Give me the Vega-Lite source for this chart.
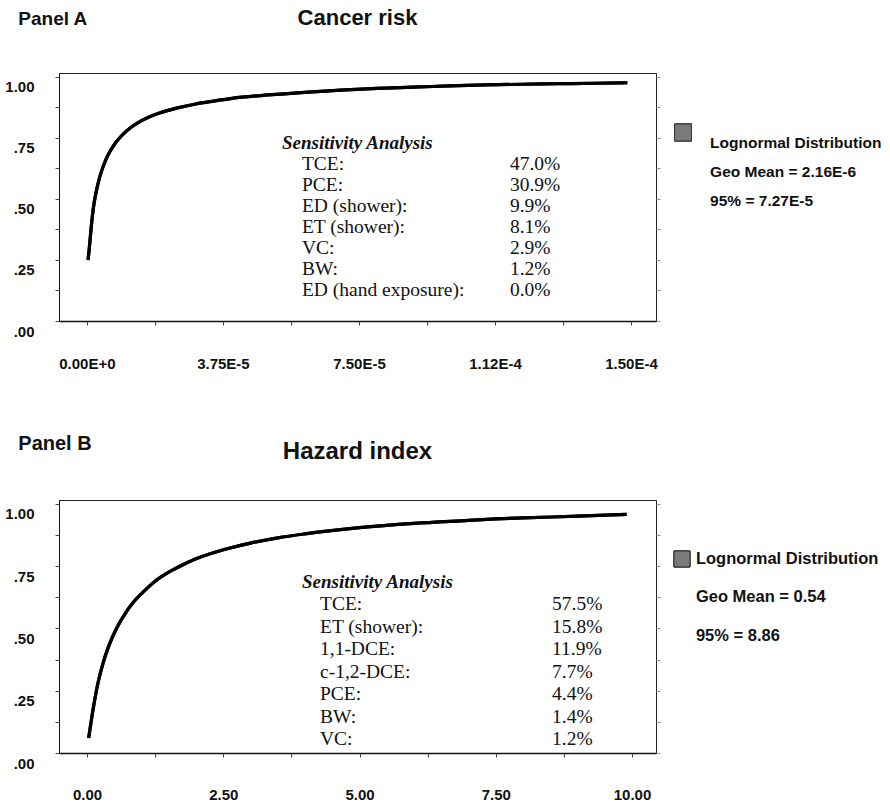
{
  "$schema": "https://vega.github.io/schema/vega-lite/v6.json",
  "background": "white",
  "padding": {"left": 4, "top": 6, "right": 0, "bottom": 0},
  "spacing": 61,
  "config": {
    "view": {"stroke": "#222", "strokeWidth": 1},
    "font": "Liberation Sans",
    "axis": {"labelFont": "Liberation Sans", "labelFontWeight": "bold", "labelFontSize": 15, "labelColor": "#111", "tickColor": "#444", "domainColor": "#111", "grid": false, "labelFlush": false, "labelOverlap": false, "tickSize": 4},
    "axisX": {"labelPadding": 31, "domainWidth": 1.6},
    "axisY": {"labelPadding": 21, "labelOffset": 10},
    "title": {"font": "Liberation Sans", "fontWeight": "bold", "color": "#111"}
  },
  "vconcat": [
    {
      "title": {"text": "Panel A", "anchor": "start", "fontSize": 19, "offset": 0, "dy": 22, "dx": 14},
      "spacing": 5,
      "hconcat": [
        {
          "width": 597,
          "height": 248,
          "title": {"text": "Cancer risk", "anchor": "middle", "fontSize": 22, "offset": 43},
          "data": {"values": [
            {"risk": 3e-7, "p": 0.25}, {"risk": 6e-7, "p": 0.29}, {"risk": 1e-6, "p": 0.355}, {"risk": 1.5e-6, "p": 0.43}, {"risk": 2e-6, "p": 0.485},
            {"risk": 2.5e-6, "p": 0.525}, {"risk": 3e-6, "p": 0.56}, {"risk": 4e-6, "p": 0.613}, {"risk": 5e-6, "p": 0.653},
            {"risk": 6e-6, "p": 0.685}, {"risk": 7e-6, "p": 0.71}, {"risk": 8e-6, "p": 0.732}, {"risk": 9e-6, "p": 0.75},
            {"risk": 1e-5, "p": 0.766}, {"risk": 1.2e-5, "p": 0.792}, {"risk": 1.4e-5, "p": 0.812}, {"risk": 1.7e-5, "p": 0.835},
            {"risk": 2e-5, "p": 0.852}, {"risk": 2.5e-5, "p": 0.873}, {"risk": 3e-5, "p": 0.889}, {"risk": 3.5e-5, "p": 0.901},
            {"risk": 4e-5, "p": 0.912}, {"risk": 5e-5, "p": 0.926}, {"risk": 6e-5, "p": 0.937}, {"risk": 7e-5, "p": 0.946},
            {"risk": 8e-5, "p": 0.953}, {"risk": 9e-5, "p": 0.958}, {"risk": 1e-4, "p": 0.963}, {"risk": 1.1e-4, "p": 0.967},
            {"risk": 1.2e-4, "p": 0.97}, {"risk": 1.3e-4, "p": 0.972}, {"risk": 1.4e-4, "p": 0.974}, {"risk": 1.49e-4, "p": 0.976}
          ]},
          "layer": [
            {
              "mark": {"type": "line", "color": "#000", "strokeWidth": 3.2, "interpolate": "monotone"},
              "encoding": {
                "x": {"field": "risk", "type": "quantitative", "title": null,
                      "scale": {"domain": [-7.7e-6, 1.569e-4], "nice": false, "zero": false},
                      "axis": {"values": [0, 1.875e-5, 3.75e-5, 5.625e-5, 7.5e-5, 9.375e-5, 1.125e-4, 1.3125e-4, 1.5e-4],
                               "labelExpr": "datum.value == 0 ? '0.00E+0' : datum.value == 3.75e-5 ? '3.75E-5' : datum.value == 7.5e-5 ? '7.50E-5' : datum.value == 1.125e-4 ? '1.12E-4' : datum.value == 1.5e-4 ? '1.50E-4' : ''"}},
                "y": {"field": "p", "type": "quantitative", "title": null,
                      "scale": {"domain": [0, 1.016], "nice": false, "zero": false},
                      "axis": {"orient": "left", "values": [0, 0.125, 0.25, 0.375, 0.5, 0.625, 0.75, 0.875, 1],
                               "labelExpr": "datum.value == 1 ? '1.00' : datum.value == 0.75 ? '.75' : datum.value == 0.5 ? '.50' : datum.value == 0.25 ? '.25' : datum.value == 0 ? '.00' : ''"}}
              }
            },
            {
              "mark": {"type": "line", "color": "#000", "strokeWidth": 3.2, "interpolate": "monotone"},
              "encoding": {
                "x": {"field": "risk", "type": "quantitative", "title": null},
                "y": {"field": "p", "type": "quantitative", "title": null,
                      "scale": {"domain": [0, 1.016], "nice": false, "zero": false},
                      "axis": {"orient": "right", "labels": false, "domain": false, "tickColor": "#999", "values": [0, 0.125, 0.25, 0.375, 0.5, 0.625, 0.75, 0.875, 1]}}
              }
            },
            {
              "data": {"values": [{"head": "Sensitivity Analysis"}]},
              "mark": {"type": "text", "align": "left", "baseline": "middle", "font": "Liberation Serif", "fontSize": 19, "fontWeight": "bold", "fontStyle": "italic", "color": "#111"},
              "encoding": {
                "x": {"datum": 5.377e-5, "type": "quantitative", "title": null},
                "y": {"datum": 0, "type": "quantitative", "scale": {"domain": [-3.333, 8.476], "reverse": true, "nice": false, "zero": false}, "axis": null},
                "text": {"field": "head"}
              }
            },
            {
              "data": {"name": "sensA"},
              "mark": {"type": "text", "align": "left", "baseline": "middle", "font": "Liberation Serif", "fontSize": 19.5, "color": "#111"},
              "encoding": {
                "x": {"datum": 5.928e-5, "type": "quantitative", "title": null},
                "y": {"field": "order", "type": "quantitative", "scale": {"domain": [-3.333, 8.476], "reverse": true, "nice": false, "zero": false}, "axis": null},
                "text": {"field": "item"}
              }
            },
            {
              "data": {"name": "sensA"},
              "mark": {"type": "text", "align": "left", "baseline": "middle", "font": "Liberation Serif", "fontSize": 19.5, "color": "#111"},
              "encoding": {
                "x": {"datum": 1.1664e-4, "type": "quantitative", "title": null},
                "y": {"field": "order", "type": "quantitative", "scale": {"domain": [-3.333, 8.476], "reverse": true, "nice": false, "zero": false}, "axis": null},
                "text": {"field": "pct"}
              }
            }
          ],
          "resolve": {"scale": {"y": "independent"}}
        },
        {
          "width": 225,
          "height": 248,
          "view": {"stroke": null},
          "data": {"values": [
            {"order": 1, "label": "Lognormal Distribution"},
            {"order": 2, "label": "Geo Mean = 2.16E-6"},
            {"order": 3, "label": "95% = 7.27E-5"}
          ]},
          "layer": [
            {
              "mark": {"type": "text", "align": "left", "baseline": "middle", "font": "Liberation Sans", "fontWeight": "bold", "fontSize": 15.5, "color": "#111"},
              "encoding": {
                "x": {"datum": 0.196, "type": "quantitative", "scale": {"domain": [0, 1], "nice": false, "zero": false}, "axis": null},
                "y": {"field": "order", "type": "quantitative", "scale": {"domain": [-1.41, 7.14], "reverse": true, "nice": false, "zero": false}, "axis": null},
                "text": {"field": "label"}
              }
            },
            {
              "mark": {"type": "square", "size": 289, "filled": true, "color": "#7a7a7a", "stroke": "#333", "strokeWidth": 1, "opacity": 1},
              "encoding": {
                "x": {"datum": 0.0756, "type": "quantitative"},
                "y": {"datum": 0.641, "type": "quantitative"}
              }
            }
          ]
        }
      ]
    },
    {
      "title": {"text": "Panel B", "anchor": "start", "fontSize": 20, "offset": 0, "dy": 14, "dx": 14},
      "spacing": 5,
      "hconcat": [
        {
          "width": 597,
          "height": 253,
          "title": {"text": "Hazard index", "anchor": "middle", "fontSize": 24, "offset": 36},
          "data": {"values": [
            {"hi": 0.03, "p": 0.06}, {"hi": 0.1, "p": 0.16}, {"hi": 0.2, "p": 0.28}, {"hi": 0.3, "p": 0.365},
            {"hi": 0.4, "p": 0.43}, {"hi": 0.54, "p": 0.5}, {"hi": 0.7, "p": 0.56}, {"hi": 0.85, "p": 0.605},
            {"hi": 1.0, "p": 0.64}, {"hi": 1.25, "p": 0.69}, {"hi": 1.5, "p": 0.726}, {"hi": 1.75, "p": 0.755},
            {"hi": 2.0, "p": 0.78}, {"hi": 2.5, "p": 0.816}, {"hi": 3.0, "p": 0.843}, {"hi": 3.5, "p": 0.864},
            {"hi": 4.0, "p": 0.88}, {"hi": 5.0, "p": 0.905}, {"hi": 6.0, "p": 0.922}, {"hi": 7.0, "p": 0.934},
            {"hi": 7.5, "p": 0.94}, {"hi": 8.0, "p": 0.944}, {"hi": 9.0, "p": 0.951}, {"hi": 9.9, "p": 0.958}
          ]},
          "layer": [
            {
              "mark": {"type": "line", "color": "#000", "strokeWidth": 3.2, "interpolate": "monotone"},
              "encoding": {
                "x": {"field": "hi", "type": "quantitative", "title": null,
                      "scale": {"domain": [-0.514, 10.44], "nice": false, "zero": false},
                      "axis": {"values": [0, 1.25, 2.5, 3.75, 5, 6.25, 7.5, 8.75, 10], "labelPadding": 30,
                               "labelExpr": "datum.value % 2.5 == 0 ? format(datum.value, '.2f') : ''"}},
                "y": {"field": "p", "type": "quantitative", "title": null,
                      "scale": {"domain": [0, 1.016], "nice": false, "zero": false},
                      "axis": {"orient": "left", "values": [0, 0.125, 0.25, 0.375, 0.5, 0.625, 0.75, 0.875, 1],
                               "labelExpr": "datum.value == 1 ? '1.00' : datum.value == 0.75 ? '.75' : datum.value == 0.5 ? '.50' : datum.value == 0.25 ? '.25' : datum.value == 0 ? '.00' : ''"}}
              }
            },
            {
              "mark": {"type": "line", "color": "#000", "strokeWidth": 3.2, "interpolate": "monotone"},
              "encoding": {
                "x": {"field": "hi", "type": "quantitative", "title": null},
                "y": {"field": "p", "type": "quantitative", "title": null,
                      "scale": {"domain": [0, 1.016], "nice": false, "zero": false},
                      "axis": {"orient": "right", "labels": false, "domain": false, "tickColor": "#999", "values": [0, 0.125, 0.25, 0.375, 0.5, 0.625, 0.75, 0.875, 1]}}
              }
            },
            {
              "data": {"values": [{"head": "Sensitivity Analysis"}]},
              "mark": {"type": "text", "align": "left", "baseline": "middle", "font": "Liberation Serif", "fontSize": 19, "fontWeight": "bold", "fontStyle": "italic", "color": "#111"},
              "encoding": {
                "x": {"datum": 3.945, "type": "quantitative", "title": null},
                "y": {"datum": 0, "type": "quantitative", "scale": {"domain": [-3.644, 7.6], "reverse": true, "nice": false, "zero": false}, "axis": null},
                "text": {"field": "head"}
              }
            },
            {
              "data": {"name": "sensB"},
              "mark": {"type": "text", "align": "left", "baseline": "middle", "font": "Liberation Serif", "fontSize": 19.5, "color": "#111"},
              "encoding": {
                "x": {"datum": 4.275, "type": "quantitative", "title": null},
                "y": {"field": "order", "type": "quantitative", "scale": {"domain": [-3.644, 7.6], "reverse": true, "nice": false, "zero": false}, "axis": null},
                "text": {"field": "item"}
              }
            },
            {
              "data": {"name": "sensB"},
              "mark": {"type": "text", "align": "left", "baseline": "middle", "font": "Liberation Serif", "fontSize": 19.5, "color": "#111"},
              "encoding": {
                "x": {"datum": 8.532, "type": "quantitative", "title": null},
                "y": {"field": "order", "type": "quantitative", "scale": {"domain": [-3.644, 7.6], "reverse": true, "nice": false, "zero": false}, "axis": null},
                "text": {"field": "pct"}
              }
            }
          ],
          "resolve": {"scale": {"y": "independent"}}
        },
        {
          "width": 225,
          "height": 253,
          "view": {"stroke": null},
          "data": {"values": [
            {"order": 1, "label": "Lognormal Distribution"},
            {"order": 2, "label": "Geo Mean = 0.54"},
            {"order": 3, "label": "95% = 8.86"}
          ]},
          "layer": [
            {
              "mark": {"type": "text", "align": "left", "baseline": "middle", "font": "Liberation Sans", "fontWeight": "bold", "fontSize": 16.5, "color": "#111"},
              "encoding": {
                "x": {"datum": 0.133, "type": "quantitative", "scale": {"domain": [0, 1], "nice": false, "zero": false}, "axis": null},
                "y": {"field": "order", "type": "quantitative", "scale": {"domain": [-0.532, 6.04], "reverse": true, "nice": false, "zero": false}, "axis": null},
                "text": {"field": "label"}
              }
            },
            {
              "mark": {"type": "square", "size": 256, "filled": true, "color": "#7a7a7a", "stroke": "#333", "strokeWidth": 1, "opacity": 1},
              "encoding": {
                "x": {"datum": 0.071, "type": "quantitative"},
                "y": {"datum": 1, "type": "quantitative"}
              }
            }
          ]
        }
      ]
    }
  ],
  "datasets": {
    "sensA": [
      {"order": 1, "item": "TCE:", "pct": "47.0%"},
      {"order": 2, "item": "PCE:", "pct": "30.9%"},
      {"order": 3, "item": "ED (shower):", "pct": "9.9%"},
      {"order": 4, "item": "ET (shower):", "pct": "8.1%"},
      {"order": 5, "item": "VC:", "pct": "2.9%"},
      {"order": 6, "item": "BW:", "pct": "1.2%"},
      {"order": 7, "item": "ED (hand exposure):", "pct": "0.0%"}
    ],
    "sensB": [
      {"order": 1, "item": "TCE:", "pct": "57.5%"},
      {"order": 2, "item": "ET (shower):", "pct": "15.8%"},
      {"order": 3, "item": "1,1-DCE:", "pct": "11.9%"},
      {"order": 4, "item": "c-1,2-DCE:", "pct": "7.7%"},
      {"order": 5, "item": "PCE:", "pct": "4.4%"},
      {"order": 6, "item": "BW:", "pct": "1.4%"},
      {"order": 7, "item": "VC:", "pct": "1.2%"}
    ]
  }
}
